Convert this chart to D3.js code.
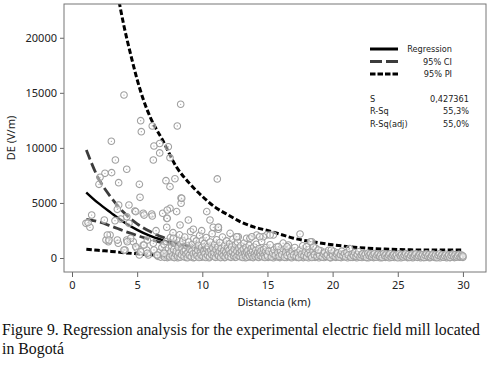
<!DOCTYPE html>
<html>
<head>
<meta charset="utf-8">
<script src="https://cdn.jsdelivr.net/npm/d3@7"></script>
<style>
  html, body { margin: 0; padding: 0; background: #fff; }
  svg { display: block; }
</style>
</head>
<body>
<div id="chart"></div>
<script>
// ━━━━━━━━━━━━━━━━━━━━━━━━━━━━━━━━━━━━━━━━━━━━━━━━━━━━━━━━━━━━━━━━━━━━━━━━━━━━
// Data ///////////////////////////////////////////////////
// ━━━━━━━━━━━━━━━━━━━━━━━━━━━━━━━━━━━━━━━━━━━━━━━━━━━━━━━━━━━━━━━━━━━━━━━━━━━━

const xTicks = [0, 5, 10, 15, 20, 25, 30];
const yTicks = [0, 5000, 10000, 15000, 20000];

// [distancia km, DE V/m]
const regression = [[1.1,5950],[2,5000],[3,4100],[4,3250],[5,2550],[6,2000],[7,1600],[8,1250],[9,980],[10,800],[12,560],[14,410],[16,320],[18,250],[20,200],[22,165],[24,140],[26,125],[28,112],[30,106]];
const ciUpper = [[1.1,9800],[2,7300],[3,5500],[4,4100],[5,3100],[6,2400],[7,1870],[8,1430],[9,1100],[10,880],[12,605],[14,435],[16,340],[18,265],[20,212],[22,177],[24,151],[26,136],[28,123],[30,117]];
const ciLower = [[1.1,3500],[2,3300],[3,2900],[4,2450],[5,2050],[6,1660],[7,1370],[8,1100],[9,875],[10,725],[12,520],[14,385],[16,300],[18,235],[20,188],[22,154],[24,130],[26,115],[28,102],[30,95]];
const piUpper = [[3.5,24000],[4,21000],[4.5,18500],[5,16200],[5.5,14300],[6,12800],[7,10600],[8,8300],[9,6800],[10,5600],[11,4600],[12,3900],[13,3250],[14,2800],[15,2500],[16,2150],[17,1800],[18,1560],[19,1370],[20,1200],[22,950],[24,810],[26,740],[28,720],[30,720]];
const piLower = [[1.1,800],[2,700],[3,600],[4,480],[5,380],[6,300],[7,240],[8,190],[9,150],[10,120],[12,85],[14,60],[16,45],[18,36],[20,30],[22,25],[24,21],[26,18],[28,17],[30,16]];

const sparsePoints = [
  [3.99,14800],[8.34,13960],[5.27,12470],[5.32,11470],[6.16,11990],[8.08,11990],[3.02,10600],[6.29,10170],[6.73,10400],[6.73,9540],
  [6.24,8900],[3.33,8900],[7.52,9100],[7.39,10100],[2.53,7690],[3.04,7750],[4.2,8060],[2.15,7330],[3.58,6840],[5.17,6690],
  [7.21,7020],[7.9,7200],[7.52,6480],[11.15,7180],[2.07,6690],[5.22,5510],[8.37,5450],[8.37,4970],[3.58,4810],[4.37,4810],
  [4.83,4270],[5.47,4060],[6.12,4000],[3.48,4420],[1.51,3900],[7.52,4510],[8.03,4210],[6.96,4060],[10.34,4210],[10.59,3450],
  [8.93,3450],[7.27,3600],[4.2,3750],[3.74,3540],[1.07,3150],[1.38,2790],[1.23,3210],[2.48,3450],[3.3,3390],[6.45,2480],
  [7.27,2790],[8.29,3000],[9.31,2610],[9.95,2480],[10.84,2790],[11.23,2610],[12.13,2240],[12.76,1930],[13.4,1790],[2.92,2090],
  [2.79,1480],[2.61,1630],[3.55,1340],[4.2,1630],[4.7,1480],[4.07,730],[4.97,880],[5.17,270],[5.73,730],[5.86,270],
  [6.5,270],[5.47,1180],[6.24,1340],[7.78,1790],[14.17,2090],[14.94,2090],[14.68,1930],[15.45,2090],[17.5,2180],[16.6,1180],
  [15.83,1030],[18.4,1480],[18.52,1030],[18.0,1030],[18.9,730],[11.23,2790],[12.64,1930],[13.66,1790],[4.37,3150],[4.89,4210],
  [5.53,3900],[6.16,3810],[7.31,4360],[7.31,3600],[4.5,1790],[4.89,1030],[5.53,1180],[5.78,1630],[5.27,570],[5.78,430],
  [6.29,730],[6.55,270],[7.06,430],[2.71,2090],[2.84,1630],[3.48,1630],[4.24,1480],[3.99,730],[13.8,1930],[14.4,1930],
  [15.2,2090],[18.3,1480],[16.5,1030],[19.9,730],[8.42,5420],[11.23,2790],[12.64,1930]
];

const bandPoints = [
  [6.6,150],[6.7,520],[6.8,80],[6.9,950],[7.0,330],[7.05,1250],[7.1,60],[7.2,680],[7.25,1500],[7.3,240],[7.4,900],[7.45,420],[7.5,100],[7.55,1850],[7.6,560],
  [7.65,1100],[7.7,200],[7.75,2300],[7.8,760],[7.85,40],[7.9,1350],[7.95,380],[8.0,620],[8.05,1700],[8.1,150],[8.15,980],[8.2,450],[8.25,2100],[8.3,70],[8.35,1250],
  [8.4,300],[8.45,820],[8.5,1550],[8.55,560],[8.6,120],[8.65,1900],[8.7,700],[8.75,350],[8.8,1100],[8.85,30],[8.9,480],[8.95,1450],[9.0,250],[9.05,800],[9.1,2400],
  [9.15,120],[9.2,650],[9.25,1250],[9.3,380],[9.35,1750],[9.4,60],[9.45,900],[9.5,450],[9.55,1550],[9.6,200],[9.65,700],[9.7,1150],[9.75,50],[9.8,2050],[9.85,500],
  [9.9,280],[9.95,950],[10.0,1600],[10.05,140],[10.1,620],[10.15,1300],[10.2,380],[10.25,50],[10.3,1850],[10.35,800],[10.4,250],[10.45,1050],[10.5,550],[10.55,100],[10.6,1450],
  [10.65,700],[10.7,320],[10.75,2200],[10.8,900],[10.85,150],[10.9,480],[10.95,1250],[11.0,60],[11.05,750],[11.1,1650],[11.15,350],[11.2,1000],[11.25,180],[11.3,600],[11.35,1400],
  [11.4,40],[11.45,850],[11.5,420],[11.55,1900],[11.6,230],[11.65,680],[11.7,1150],[11.75,90],[11.8,520],[11.85,1550],[11.9,300],[11.95,900],[12.0,140],[12.05,700],[12.1,1300],
  [12.15,400],[12.2,60],[12.25,1000],[12.3,550],[12.35,1700],[12.4,200],[12.45,780],[12.5,350],[12.55,1200],[12.6,80],[12.65,600],[12.7,1450],[12.75,250],[12.8,900],[12.85,450],
  [12.9,120],[12.95,1100],[13.0,650],[13.05,300],[13.1,50],[13.15,800],[13.2,1350],[13.25,420],[13.3,180],[13.35,950],[13.4,550],[13.45,70],[13.5,700],[13.55,300],[13.6,1150],
  [13.65,130],[13.7,480],[13.75,850],[13.8,250],[13.85,600],[13.9,40],[13.95,1000],[14.0,380],[14.05,160],[14.1,700],[14.15,1250],[14.2,300],[14.25,520],[14.3,90],[14.35,850],
  [14.4,420],[14.45,200],[14.5,650],[14.55,1500],[14.6,120],[14.65,450],[14.7,780],[14.75,260],[14.8,50],[14.85,580],[14.9,950],[14.95,330],[15.0,180],[15.1,620],[15.2,1200],
  [15.3,90],[15.4,430],[15.5,750],[15.6,240],[15.7,1000],[15.8,500],[15.9,130],[16.0,680],[16.1,300],[16.2,1350],[16.3,60],[16.4,540],[16.5,220],[16.6,850],[16.7,380],
  [16.8,110],[16.9,620],[17.0,280],[17.1,950],[17.2,160],[17.3,480],[17.4,40],[17.5,720],[17.6,330],[17.7,1100],[17.8,200],[17.9,560],[18.0,90],[18.1,400],[18.2,760],
  [18.3,250],[18.4,50],[18.5,600],[18.6,300],[18.7,900],[18.8,150],[18.9,450],[19.0,230],[19.1,650],[19.2,80],[19.3,380],[19.4,520],[19.5,160],[19.6,300],[19.7,700],
  [19.8,40],[19.9,420],[20.0,250],[20.1,580],[20.2,120],[20.3,350],[20.4,480],[20.5,70],[20.6,300],[20.7,620],[20.8,190],[20.9,400],[21.0,100],[21.1,520],[21.2,260],
  [21.3,850],[21.4,60],[21.5,360],[21.6,200],[21.7,480],[21.8,130],[21.9,320],[22.0,560],[22.1,80],[22.2,280],[22.3,400],[22.4,170],[22.5,350],[22.6,40],[22.7,420],
  [22.8,230],[22.9,380],[23.0,120],[23.1,300],[23.2,400],[23.3,70],[23.4,260],[23.5,360],[23.6,150],[23.7,320],[23.8,40],[23.9,400],[24.0,210],[24.1,350],[24.2,100],
  [24.3,280],[24.4,380],[24.5,60],[24.6,250],[24.7,340],[24.8,150],[24.9,300],[25.0,30],[25.1,380],[25.2,200],[25.3,330],[25.4,90],[25.5,270],[25.6,400],[25.7,140],
  [25.8,310],[25.9,50],[26.0,230],[26.1,360],[26.2,110],[26.3,280],[26.4,390],[26.5,60],[26.6,200],[26.7,350],[26.8,130],[26.9,300],[27.0,40],[27.1,250],[27.2,380],
  [27.3,160],[27.4,320],[27.5,80],[27.6,220],[27.7,350],[27.8,120],[27.9,290],[28.0,30],[28.1,240],[28.2,380],[28.3,150],[28.4,300],[28.5,70],[28.6,210],[28.7,340],
  [28.8,110],[28.9,270],[29.0,40],[29.1,230],[29.2,350],[29.3,140],[29.4,300],[29.5,80],[29.6,200],[29.7,330],[29.8,120],[29.9,260],[30.0,60],[30.0,180]
];

// second, lower layer of the dense band near the axis
const bandPointsLow = [
  [7.12,180],[7.32,40],[7.52,310],[7.72,90],[7.92,220],[8.12,30],[8.32,410],[8.52,160],[8.72,60],[8.92,280],[9.12,130],[9.32,20],[9.52,350],[9.72,190],[9.92,70],
  [10.12,260],[10.32,120],[10.52,30],[10.72,380],[10.92,210],[11.12,90],[11.32,300],[11.52,150],[11.72,40],[11.92,240],[12.12,110],[12.32,330],[12.52,60],[12.72,190],[12.92,280],
  [13.12,140],[13.32,30],[13.52,230],[13.72,90],[13.92,310],[14.12,170],[14.32,50],[14.52,260],[14.72,120],[14.92,200],
  [15.05,60],[15.15,300],[15.25,150],[15.35,420],[15.45,30],[15.55,200],[15.65,350],[15.75,90],[15.85,260],[15.95,40],[16.05,180],[16.15,470],[16.25,120],[16.35,300],[16.45,50],
  [16.55,230],[16.65,140],[16.75,400],[16.85,20],[16.95,260],[17.05,130],[17.15,360],[17.25,60],[17.35,210],[17.45,310],[17.55,100],[17.65,250],[17.75,40],[17.85,380],[17.95,160],
  [18.05,270],[18.15,30],[18.25,190],[18.35,340],[18.45,110],[18.55,240],[18.65,60],[18.75,310],[18.85,170],[18.95,20],[19.05,260],[19.15,130],[19.25,360],[19.35,50],[19.45,220],
  [19.55,110],[19.65,290],[19.75,160],[19.85,30],[19.95,240],[20.05,120],[20.15,300],[20.25,60],[20.35,200],[20.45,140],[20.55,330],[20.65,40],[20.75,230],[20.85,100],[20.95,280],
  [21.05,170],[21.15,30],[21.25,210],[21.35,120],[21.45,300],[21.55,60],[21.65,240],[21.75,150],[21.85,20],[21.95,260],[22.05,130],[22.15,200],[22.25,50],[22.35,290],[22.45,100],
  [22.55,220],[22.65,160],[22.75,30],[22.85,250],[22.95,110],[23.05,200],[23.15,40],[23.25,150],[23.35,280],[23.45,90],[23.55,210],[23.65,20],[23.75,180],[23.85,250],[23.95,110],
  [24.05,60],[24.15,230],[24.25,160],[24.35,30],[24.45,200],[24.55,120],[24.65,270],[24.75,50],[24.85,180],[24.95,100],[25.05,240],[25.15,140],[25.25,20],[25.35,210],[25.45,90],
  [25.55,170],[25.65,260],[25.75,40],[25.85,150],[25.95,220],[26.05,100],[26.15,30],[26.25,190],[26.35,140],[26.45,250],[26.55,70],[26.65,170],[26.75,20],[26.85,220],[26.95,120],
  [27.05,180],[27.15,60],[27.25,240],[27.35,100],[27.45,30],[27.55,190],[27.65,140],[27.75,250],[27.85,50],[27.95,170],[28.05,110],[28.15,220],[28.25,30],[28.35,160],[28.45,240],
  [28.55,90],[28.65,180],[28.75,20],[28.85,210],[28.95,130],[29.05,60],[29.15,190],[29.25,250],[29.35,40],[29.45,160],[29.55,110],[29.65,230],[29.75,70],[29.85,180],[29.95,100]
];

const legendItems = [
  { label: 'Regression', dash: null,    color: '#000',    width: 3 },
  { label: '95% CI',     dash: '12,4',  color: '#3c3c3c', width: 3 },
  { label: '95% PI',     dash: '5.5,2', color: '#000',    width: 3 }
];
const statLabels = ['S', 'R-Sq', 'R-Sq(adj)'];
const statValues = ['0,427361', '55,3%', '55,0%'];

const captionLines = ['Figure 9. Regression analysis for the experimental electric field mill located', 'in Bogotá'];

// ━━━━━━━━━━━━━━━━━━━━━━━━━━━━━━━━━━━━━━━━━━━━━━━━━━━━━━━━━━━━━━━━━━━━━━━━━━━━
// SVG setup ///////////////////////////////////////////////////////////////////
// ━━━━━━━━━━━━━━━━━━━━━━━━━━━━━━━━━━━━━━━━━━━━━━━━━━━━━━━━━━━━━━━━━━━━━━━━━━━━

const width = 491, height = 367;
const frameBox = { left: 64, right: 486, top: 4, bottom: 272 };

const svg = d3.select('#chart').append('svg')
  .attr('width', width)
  .attr('height', height)
  .attr('viewBox', [0, 0, width, height]);

const x = d3.scaleLinear().domain([-0.614, 31.77]).range([frameBox.left, frameBox.right]);
const y = d3.scaleLinear().domain([-1271, 23066]).range([frameBox.bottom, frameBox.top]);

svg.append('defs').append('clipPath').attr('id', 'plot-clip')
  .append('rect')
  .attr('x', frameBox.left).attr('y', frameBox.top)
  .attr('width', frameBox.right - frameBox.left)
  .attr('height', frameBox.bottom - frameBox.top);

const tickFont = '"Noto Sans", sans-serif';

// axes //////////////////////////////////////////////////////////////////////
const xAxis = svg.append('g')
  .attr('transform', `translate(0,${frameBox.bottom})`)
  .call(d3.axisBottom(x).tickValues(xTicks).tickSize(5).tickPadding(4));
const yAxis = svg.append('g')
  .attr('transform', `translate(${frameBox.left},0)`)
  .call(d3.axisLeft(y).tickValues(yTicks).tickFormat(d3.format('d')).tickSize(4).tickPadding(3));

[xAxis, yAxis].forEach(ax => {
  ax.select('.domain').remove();
  ax.selectAll('line').attr('stroke', '#666');
  ax.selectAll('text').attr('font-family', tickFont).attr('font-size', 11).attr('fill', '#222');
});

svg.append('text')
  .attr('x', 274).attr('y', 306)
  .attr('text-anchor', 'middle')
  .attr('font-family', tickFont).attr('font-size', 11).attr('fill', '#222')
  .text('Distancia (km)');

svg.append('text')
  .attr('transform', 'translate(15,138) rotate(-90)')
  .attr('text-anchor', 'middle')
  .attr('font-family', tickFont).attr('font-size', 11).attr('fill', '#222')
  .text('DE (V/m)');

// curves ////////////////////////////////////////////////////////////////////
const plot = svg.append('g').attr('clip-path', 'url(#plot-clip)');
const line = d3.line().x(d => x(d[0])).y(d => y(d[1])).curve(d3.curveMonotoneX);

const curves = [
  { data: piUpper,    dash: '5.5,2.5', color: '#000',    width: 3 },
  { data: piLower,    dash: '5.5,2.5', color: '#000',    width: 3 },
  { data: ciUpper,    dash: '10,4',    color: '#3c3c3c', width: 2.8 },
  { data: ciLower,    dash: '10,4',    color: '#3c3c3c', width: 2.8 },
  { data: regression, dash: null,      color: '#000',    width: 2.4 }
];

plot.selectAll('path.curve')
  .data(curves)
  .join('path')
  .attr('class', 'curve')
  .attr('d', d => line(d.data))
  .attr('fill', 'none')
  .attr('stroke', d => d.color)
  .attr('stroke-width', d => d.width)
  .attr('stroke-dasharray', d => d.dash);

// scatter ///////////////////////////////////////////////////////////////////
const allPoints = bandPointsLow.concat(bandPoints, sparsePoints);

const pts = plot.append('g').selectAll('g')
  .data(allPoints)
  .join('g')
  .attr('transform', d => `translate(${x(d[0])},${y(d[1])})`);

pts.append('circle').attr('r', 3.3)
  .attr('fill', '#fff').attr('fill-opacity', 0.45)
  .attr('stroke', '#a0a0a0').attr('stroke-width', 1.05);
pts.append('circle').attr('r', 0.6).attr('fill', '#a0a0a0');

// frame /////////////////////////////////////////////////////////////////////
svg.append('rect')
  .attr('x', frameBox.left).attr('y', frameBox.top)
  .attr('width', frameBox.right - frameBox.left)
  .attr('height', frameBox.bottom - frameBox.top)
  .attr('fill', 'none').attr('stroke', '#777').attr('stroke-width', 1);

// legend ////////////////////////////////////////////////////////////////////
const legendFont = '"DejaVu Sans", sans-serif';
const legend = svg.append('g');

const legendRows = legend.selectAll('g')
  .data(legendItems)
  .join('g')
  .attr('transform', (d, i) => `translate(0,${49 + i * 12.5})`);

legendRows.append('line')
  .attr('x1', 370).attr('x2', 398)
  .attr('stroke', d => d.color)
  .attr('stroke-width', d => d.width)
  .attr('stroke-dasharray', d => d.dash);

legendRows.append('text')
  .attr('x', 452).attr('y', 3)
  .attr('text-anchor', 'end')
  .attr('font-family', legendFont).attr('font-size', 8.2).attr('fill', '#222')
  .text(d => d.label);

statLabels.forEach((s, i) => {
  legend.append('text')
    .attr('x', 370).attr('y', 102 + i * 12.3)
    .attr('font-family', legendFont).attr('font-size', 8.2).attr('fill', '#222')
    .text(s);
  legend.append('text')
    .attr('x', 469).attr('y', 102 + i * 12.3)
    .attr('text-anchor', 'end')
    .attr('font-family', legendFont).attr('font-size', 8.2).attr('fill', '#222')
    .text(statValues[i]);
});

// caption (squeezed horizontally like the printed figure) ///////////////////
const captionTargets = [478, 62];
captionLines.forEach((t, i) => {
  const g = svg.append('g');
  const txt = g.append('text')
    .attr('font-family', '"Liberation Serif", "Times New Roman", serif')
    .attr('font-size', 16.5).attr('fill', '#111')
    .text(t);
  const natural = txt.node().getComputedTextLength();
  const sx = Math.min(1, captionTargets[i] / natural);
  g.attr('transform', `translate(2,${335 + i * 19}) scale(${sx},1)`);
});
</script>
</body>
</html>
